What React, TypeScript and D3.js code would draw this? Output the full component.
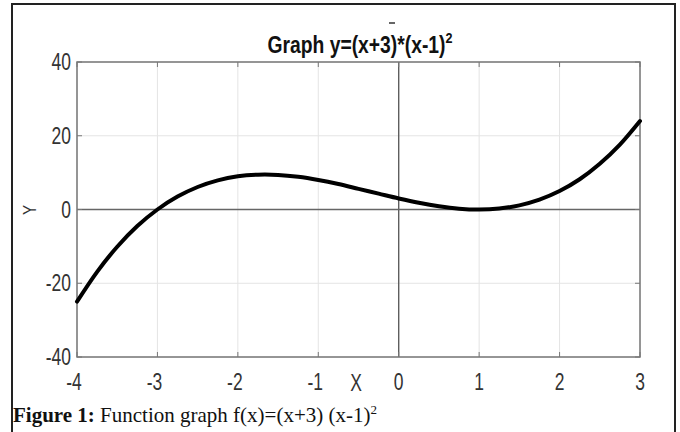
import React from "react";
import * as d3 from "d3";

const xValues = [-4, -3.75, -3.5, -3.25, -3, -2.75, -2.5, -2.25, -2, -1.75, -1.5, -1.25, -1, -0.75, -0.5, -0.25, 0, 0.25, 0.5, 0.75, 1, 1.25, 1.5, 1.75, 2, 2.25, 2.5, 2.75, 3];
const yValues = [-25, -16.9, -10.1, -4.5, 0, 3.5, 6.1, 7.9, 9, 9.45, 9.38, 8.86, 8, 6.9, 5.6, 4.3, 3, 1.83, 0.88, 0.23, 0, 0.27, 1.13, 2.67, 5, 8.2, 12.4, 17.6, 24];
const xTicks = [-4, -3, -2, -1, 0, 1, 2, 3];
const yTicks = [-40, -20, 0, 20, 40];

const W = 680;
const H = 432;
const L = 77, R = 640, T = 62, B = 357;

export default function App() {
  const x = d3.scaleLinear().domain([-4, 3]).range([L, R]);
  const y = d3.scaleLinear().domain([-40, 40]).range([B, T]);
  const pts: [number, number][] = xValues.map((v, i) => [v, yValues[i]]);
  const line = d3
    .line<[number, number]>()
    .x((d) => x(d[0]))
    .y((d) => y(d[1]))
    .curve(d3.curveCatmullRom);
  const sans = "'Liberation Sans', Arial, sans-serif";
  const serif = "'Liberation Serif', 'Times New Roman', serif";
  const sx = 0.76;
  return (
    <svg width={W} height={H} style={{ position: "absolute", left: 0, top: 0, background: "#fff" }}>
      {/* frame */}
      <line x1={12} y1={4} x2={675} y2={4} stroke="#222" strokeWidth={2} />
      <line x1={12} y1={3} x2={12} y2={H} stroke="#222" strokeWidth={2} />
      <line x1={675} y1={3} x2={675} y2={H} stroke="#222" strokeWidth={2} />

      {/* grid */}
      {xTicks.map((t) => (
        <line key={"gx" + t} x1={x(t)} x2={x(t)} y1={T} y2={B} stroke="#e4e4e4" strokeWidth={1} />
      ))}
      {yTicks.map((t) => (
        <line key={"gy" + t} x1={L} x2={R} y1={y(t)} y2={y(t)} stroke="#e4e4e4" strokeWidth={1} />
      ))}
      {/* zero lines */}
      <line x1={x(0)} x2={x(0)} y1={T} y2={B} stroke="#555" strokeWidth={1.3} />
      <line x1={L} x2={R} y1={y(0)} y2={y(0)} stroke="#666" strokeWidth={1.5} />
      {/* box */}
      <rect x={L} y={T} width={R - L} height={B - T} fill="none" stroke="#777" strokeWidth={1.5} />
      {/* ticks */}
      {xTicks.map((t) => (
        <g key={"tx" + t}>
          <line x1={x(t)} x2={x(t)} y1={B} y2={B - 5} stroke="#777" />
          <line x1={x(t)} x2={x(t)} y1={T} y2={T + 5} stroke="#777" />
        </g>
      ))}
      {yTicks.map((t) => (
        <g key={"ty" + t}>
          <line x1={L} x2={L + 5} y1={y(t)} y2={y(t)} stroke="#777" />
          <line x1={R} x2={R - 5} y1={y(t)} y2={y(t)} stroke="#777" />
        </g>
      ))}

      {/* curve */}
      <path d={line(pts) || ""} fill="none" stroke="#000" strokeWidth={4} strokeLinecap="round" />

      {/* tick labels */}
      {yTicks.map((t) => (
        <text
          key={"ly" + t}
          transform={`translate(${L - 6},${y(t) + 8}) scale(${sx},1)`}
          textAnchor="end"
          fontFamily={sans}
          fontSize={23}
          fill="#333"
        >
          {t}
        </text>
      ))}
      {xTicks.map((t) => (
        <text
          key={"lx" + t}
          transform={`translate(${x(t) - (t < 0 ? 3 : 0)},${390}) scale(${sx},1)`}
          textAnchor="middle"
          fontFamily={sans}
          fontSize={23}
          fill="#333"
        >
          {t}
        </text>
      ))}
      {/* axis labels */}
      <text transform={`translate(356,391) scale(${sx},1)`} textAnchor="middle" fontFamily={sans} fontSize={23} fill="#333">
        X
      </text>
      <text transform={`translate(36,210) rotate(-90) scale(0.85,1)`} textAnchor="middle" fontFamily={sans} fontSize={18} fill="#333">
        Y
      </text>

      {/* title */}
      <line x1={389} x2={395} y1={23} y2={23} stroke="#333" strokeWidth={1.5} />
      <text transform={`translate(360,53) scale(0.84,1)`} textAnchor="middle" fontFamily={sans} fontSize={23} fontWeight="bold" fill="#111">
        Graph y=(x+3)*(x-1)<tspan fontSize={15} dy={-10}>2</tspan>
      </text>

      {/* caption */}
      <text x={13} y={422} fontFamily={serif} fontSize={21} fill="#111">
        <tspan fontWeight="bold">Figure 1:</tspan> Function graph f(x)=(x+3) (x-1)
        <tspan fontSize={13} dy={-8}>2</tspan>
      </text>
    </svg>
  );
}
